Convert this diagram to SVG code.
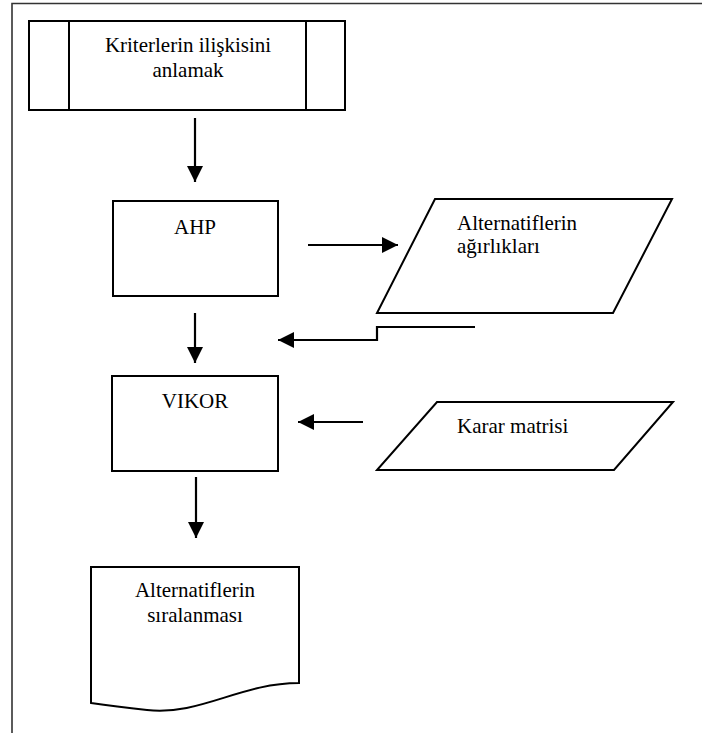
<svg xmlns="http://www.w3.org/2000/svg" width="702" height="733" viewBox="0 0 702 733">
<defs>
<style>
.s{fill:#fff;stroke:#000;stroke-width:2}
.c{fill:none;stroke:#000;stroke-width:2.2}
.t{font-family:"Liberation Serif","Times New Roman",serif;font-size:21px;fill:#000}
.m{text-anchor:middle}
</style>
<marker id="ah" markerWidth="10" markerHeight="10" refX="9" refY="5" orient="auto" markerUnits="userSpaceOnUse" viewBox="0 0 10 10">
<path d="M0,0 L10,5 L0,10 z" fill="#000"/>
</marker>
<marker id="ahb" markerWidth="16" markerHeight="16" refX="16" refY="8" orient="auto" markerUnits="userSpaceOnUse" viewBox="0 0 16 16">
<path d="M0,0 L16,8 L0,16 z" fill="#000"/>
</marker>
</defs>
<rect width="702" height="733" fill="#fff"/>
<g id="frame">
<path d="M12,733 V3.5 H702" fill="none" stroke="#333" stroke-width="1.6"/>
</g>
<g id="n1">
<rect class="s" x="29" y="21" width="316" height="89"/>
<line class="s" x1="69" y1="21" x2="69" y2="110"/>
<line class="s" x1="306" y1="21" x2="306" y2="110"/>
<text class="t m" x="188" y="52">Kriterlerin ilişkisini</text>
<text class="t m" x="188" y="77">anlamak</text>
</g>
<g id="n2">
<rect class="s" x="113" y="201" width="165" height="95"/>
<text class="t m" x="195" y="234">AHP</text>
</g>
<g id="n3">
<polygon class="s" points="435,199 672,199 613,313 377,313"/>
<text class="t" x="457" y="230">Alternatiflerin</text>
<text class="t" x="457" y="253">ağırlıkları</text>
</g>
<g id="n4">
<rect class="s" x="112" y="376" width="166" height="95"/>
<text class="t m" x="195" y="408">VIKOR</text>
</g>
<g id="n5">
<polygon class="s" points="437,402 673,402 614,470 377,470"/>
<text class="t" x="457" y="433">Karar matrisi</text>
</g>
<g id="n6">
<path class="s" d="M91,567 H299 V683 C240,683 200,716 147,710 C120,707 105,705 91,703 Z"/>
<text class="t m" x="195" y="597">Alternatiflerin</text>
<text class="t m" x="195" y="622">sıralanması</text>
</g>
<g id="connectors">
<line class="c" x1="195" y1="118" x2="195" y2="182" marker-end="url(#ahb)"/>
<line class="c" x1="308" y1="245" x2="398" y2="245" marker-end="url(#ahb)"/>
<polyline class="c" points="475,327 377,327 377,340 278,340" marker-end="url(#ahb)"/>
<line class="c" x1="195" y1="313" x2="195" y2="363" marker-end="url(#ahb)"/>
<line class="c" x1="363" y1="422" x2="298" y2="422" marker-end="url(#ahb)"/>
<line class="c" x1="196" y1="477" x2="196" y2="538" marker-end="url(#ahb)"/>
</g>
</svg>
